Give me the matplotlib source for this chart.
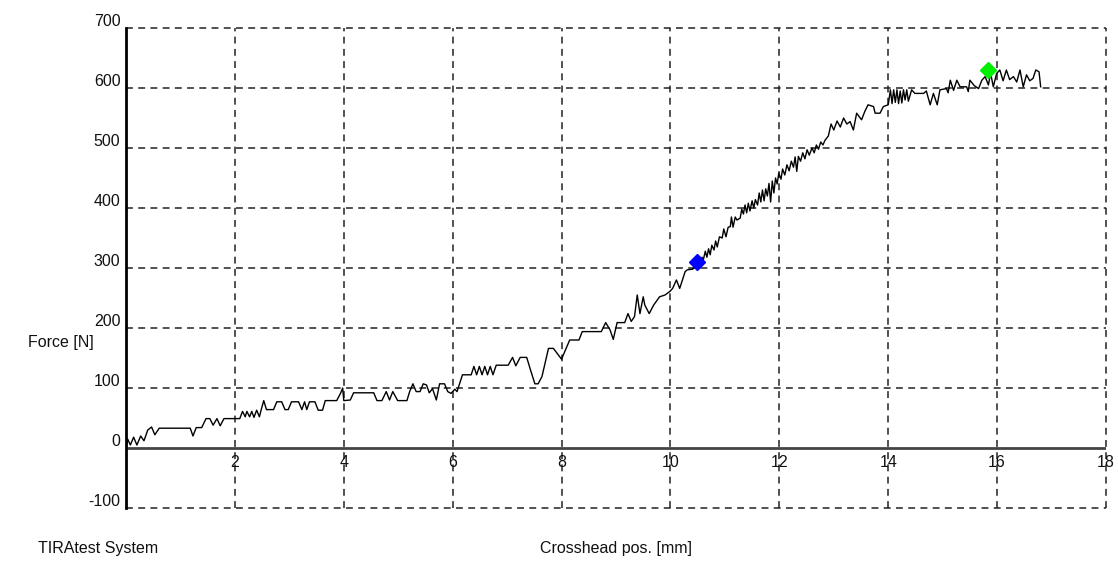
import matplotlib
matplotlib.use("Agg")
import matplotlib.pyplot as plt
from matplotlib import transforms

plt.rcParams['font.family'] = ['Liberation Sans', 'DejaVu Sans']

# ---- data ----
# segment 1: 0 - 6.1 mm
pos_1 = [0.00, 0.03, 0.08, 0.14, 0.20, 0.27, 0.33, 0.40, 0.47, 0.53, 0.61, 1.18, 1.23, 1.29, 1.39,
         1.47, 1.54, 1.60, 1.67, 1.73, 1.80, 2.09, 2.14, 2.19, 2.22, 2.27, 2.31, 2.35, 2.40, 2.45,
         2.49, 2.53, 2.58, 2.71, 2.77, 2.86, 2.92, 2.98, 3.04, 3.17, 3.23, 3.28, 3.32, 3.37, 3.44,
         3.47, 3.53, 3.61, 3.66, 3.87, 3.94, 3.98, 4.00, 4.12, 4.18, 4.55, 4.61, 4.70, 4.78, 4.84,
         4.90, 4.99, 5.16, 5.21, 5.27, 5.33, 5.40, 5.46, 5.52, 5.57, 5.63, 5.70, 5.76, 5.85, 5.91,
         5.97, 6.04, 6.08]
force_1 = [0, 15, 5, 18, 5, 20, 12, 30, 35, 22, 33, 33, 20, 34, 34,
           49, 49, 38, 49, 37, 49, 49, 61, 52, 61, 52, 61, 51, 63, 52,
           66, 79, 64, 64, 77, 77, 64, 64, 77, 77, 64, 77, 64, 77, 77,
           77, 63, 63, 79, 79, 91, 100, 79, 80, 92, 92, 79, 79, 94, 80,
           94, 79, 79, 94, 107, 94, 94, 107, 105, 92, 99, 80, 107, 107, 94,
           91, 98, 94]
# segment 2: 6.1 - 10.5 mm
pos_2 = [6.18, 6.34, 6.39, 6.44, 6.49, 6.54, 6.59, 6.64, 6.69, 6.74, 6.80, 7.02,
         7.10, 7.16, 7.24, 7.36, 7.43, 7.51, 7.57, 7.64, 7.76, 7.85, 8.00, 8.06, 8.15, 8.32, 8.38,
         8.73, 8.81, 8.89, 8.95, 9.02, 9.16, 9.22, 9.28, 9.34, 9.39, 9.44, 9.50, 9.53, 9.61, 9.69,
         9.80, 9.90, 9.99, 10.04, 10.11, 10.17, 10.27, 10.31, 10.41, 10.48]
force_2 = [122, 122, 136, 122, 136, 122, 136, 122, 136, 122, 138, 138,
           151, 137, 151, 151, 130, 107, 107, 119, 166, 166, 148, 161, 180, 180, 194,
           194, 209, 197, 181, 209, 209, 224, 211, 219, 255, 224, 252, 238, 224, 238,
           252, 255, 261, 266, 280, 266, 294, 297, 298, 308]
# segment 3: 10.5 - 12.85 mm (steep, noisy part)
pos_3 = [10.54, 10.58, 10.60, 10.64, 10.67, 10.70, 10.73, 10.76, 10.80, 10.83, 10.86, 10.90,
         10.95, 10.98, 11.02, 11.06, 11.10, 11.12, 11.15, 11.19, 11.22, 11.28, 11.31, 11.34,
         11.37, 11.40, 11.43, 11.46, 11.50, 11.53, 11.56, 11.60, 11.63, 11.66, 11.69, 11.72,
         11.75, 11.78, 11.81, 11.84, 11.87, 11.90, 11.93, 11.96, 11.99, 12.03, 12.06, 12.10,
         12.14, 12.18, 12.22, 12.26, 12.29, 12.32, 12.35, 12.39, 12.43, 12.47, 12.51, 12.55,
         12.60, 12.64, 12.68, 12.72, 12.76, 12.80, 12.84]
force_3 = [306, 318, 312, 328, 318, 332, 322, 338, 330, 345, 335, 352,
           350, 365, 352, 368, 369, 385, 368, 385, 380, 383, 398, 390,
           405, 392, 408, 395, 412, 400, 414, 405, 425, 410, 430, 412,
           432, 420, 441, 410, 445, 425, 450, 440, 458, 448, 465, 455,
           472, 462, 478, 468, 485, 461, 486, 478, 492, 482, 497, 488,
           500, 492, 505, 498, 510, 505, 513]
# segment 4: 12.9 - 16.8 mm (plateau)
pos_4 = [12.90, 12.95, 13.00, 13.06, 13.12, 13.18, 13.24, 13.30, 13.36, 13.42, 13.51,
         13.57, 13.63, 13.73, 13.76, 13.85, 13.91, 14.00, 14.04, 14.07, 14.10, 14.13, 14.16, 14.19,
         14.22, 14.25, 14.28, 14.31, 14.34, 14.37, 14.43, 14.49, 14.65, 14.70, 14.77, 14.83, 14.90,
         14.95, 15.07, 15.10, 15.14, 15.20, 15.26, 15.32, 15.44, 15.47, 15.50, 15.58, 15.66, 15.72,
         15.78, 15.84, 15.88, 15.93, 15.99, 16.05, 16.11, 16.17, 16.23, 16.30, 16.36, 16.42, 16.48,
         16.54, 16.60, 16.66, 16.71, 16.77, 16.80]
force_4 = [520, 540, 530, 545, 535, 550, 540, 544, 530, 558, 547,
           561, 572, 569, 558, 558, 569, 572, 597, 574, 597, 576, 597, 574,
           595, 575, 597, 580, 597, 578, 597, 591, 591, 595, 572, 591, 572,
           597, 599, 592, 613, 596, 613, 602, 602, 594, 613, 604, 599, 613,
           619, 605, 625, 602, 624, 630, 612, 630, 614, 619, 610, 630, 602,
           622, 612, 616, 630, 627, 602]

pos_mm = pos_1 + pos_2 + pos_3 + pos_4
force_n = force_1 + force_2 + force_3 + force_4

marker_blue = (10.48, 310)
marker_green = (15.84, 630)

x_ticks = [2, 4, 6, 8, 10, 12, 14, 16, 18]
y_ticks = [-100, 0, 100, 200, 300, 400, 500, 600, 700]

# ---- figure ----
W, H, DPI = 1118, 564, 100
fig = plt.figure(figsize=(W / DPI, H / DPI), dpi=DPI)
ax = fig.add_axes([126 / W, (564 - 508) / H, (1106 - 126) / W, (508 - 28) / H])
ax.set_xlim(0, 18)
ax.set_ylim(-100, 700)
ax.set_xticks([])
ax.set_yticks([])
for s in ['top', 'right', 'bottom']:
    ax.spines[s].set_visible(False)
ax.spines['left'].set_linewidth(2)
ax.spines['left'].set_color('black')

grid_kw = dict(color='#222222', lw=1.1, dashes=(4.5, 3.5), zorder=1, clip_on=False)
for xv in x_ticks:
    ax.axvline(xv, **grid_kw)
for yv in y_ticks:
    if yv == 0:
        ax.axhline(yv, color='#444444', lw=2, zorder=2)
    else:
        ax.axhline(yv, **grid_kw)

ax.plot(pos_mm, force_n, color='black', lw=1.0, zorder=3)
ax.plot([marker_blue[0]], [marker_blue[1]], marker='D', color='#0000ff', ms=8, zorder=4, mec='#0000ff')
ax.plot([marker_green[0]], [marker_green[1]], marker='D', color='#00ee00', ms=8, zorder=4, mec='#00ee00')

fs = 11.5
ytr = transforms.offset_copy(ax.get_yaxis_transform(), fig=fig, x=-4, y=-1, units='points')
for yv in y_ticks:
    ax.text(0, yv, str(yv), transform=ytr, ha='right', va='bottom', fontsize=fs, color='#111111')
xtr = transforms.offset_copy(ax.transData, fig=fig, x=0, y=-5, units='points')
for xv in x_ticks:
    ax.text(xv, 0, str(xv), transform=xtr, ha='center', va='top', fontsize=fs, color='#111111',
            zorder=5)

fig.text(28 / W, 1 - 343 / H, 'Force [N]', ha='left', va='center', fontsize=fs, color='#111111')
fig.text(38 / W, 1 - 548 / H, 'TIRAtest System', ha='left', va='center', fontsize=fs, color='#111111')
fig.text(540 / W, 1 - 548 / H, 'Crosshead pos. [mm]', ha='left', va='center', fontsize=fs, color='#111111')

fig.savefig('out.png', dpi=DPI, facecolor='white')
